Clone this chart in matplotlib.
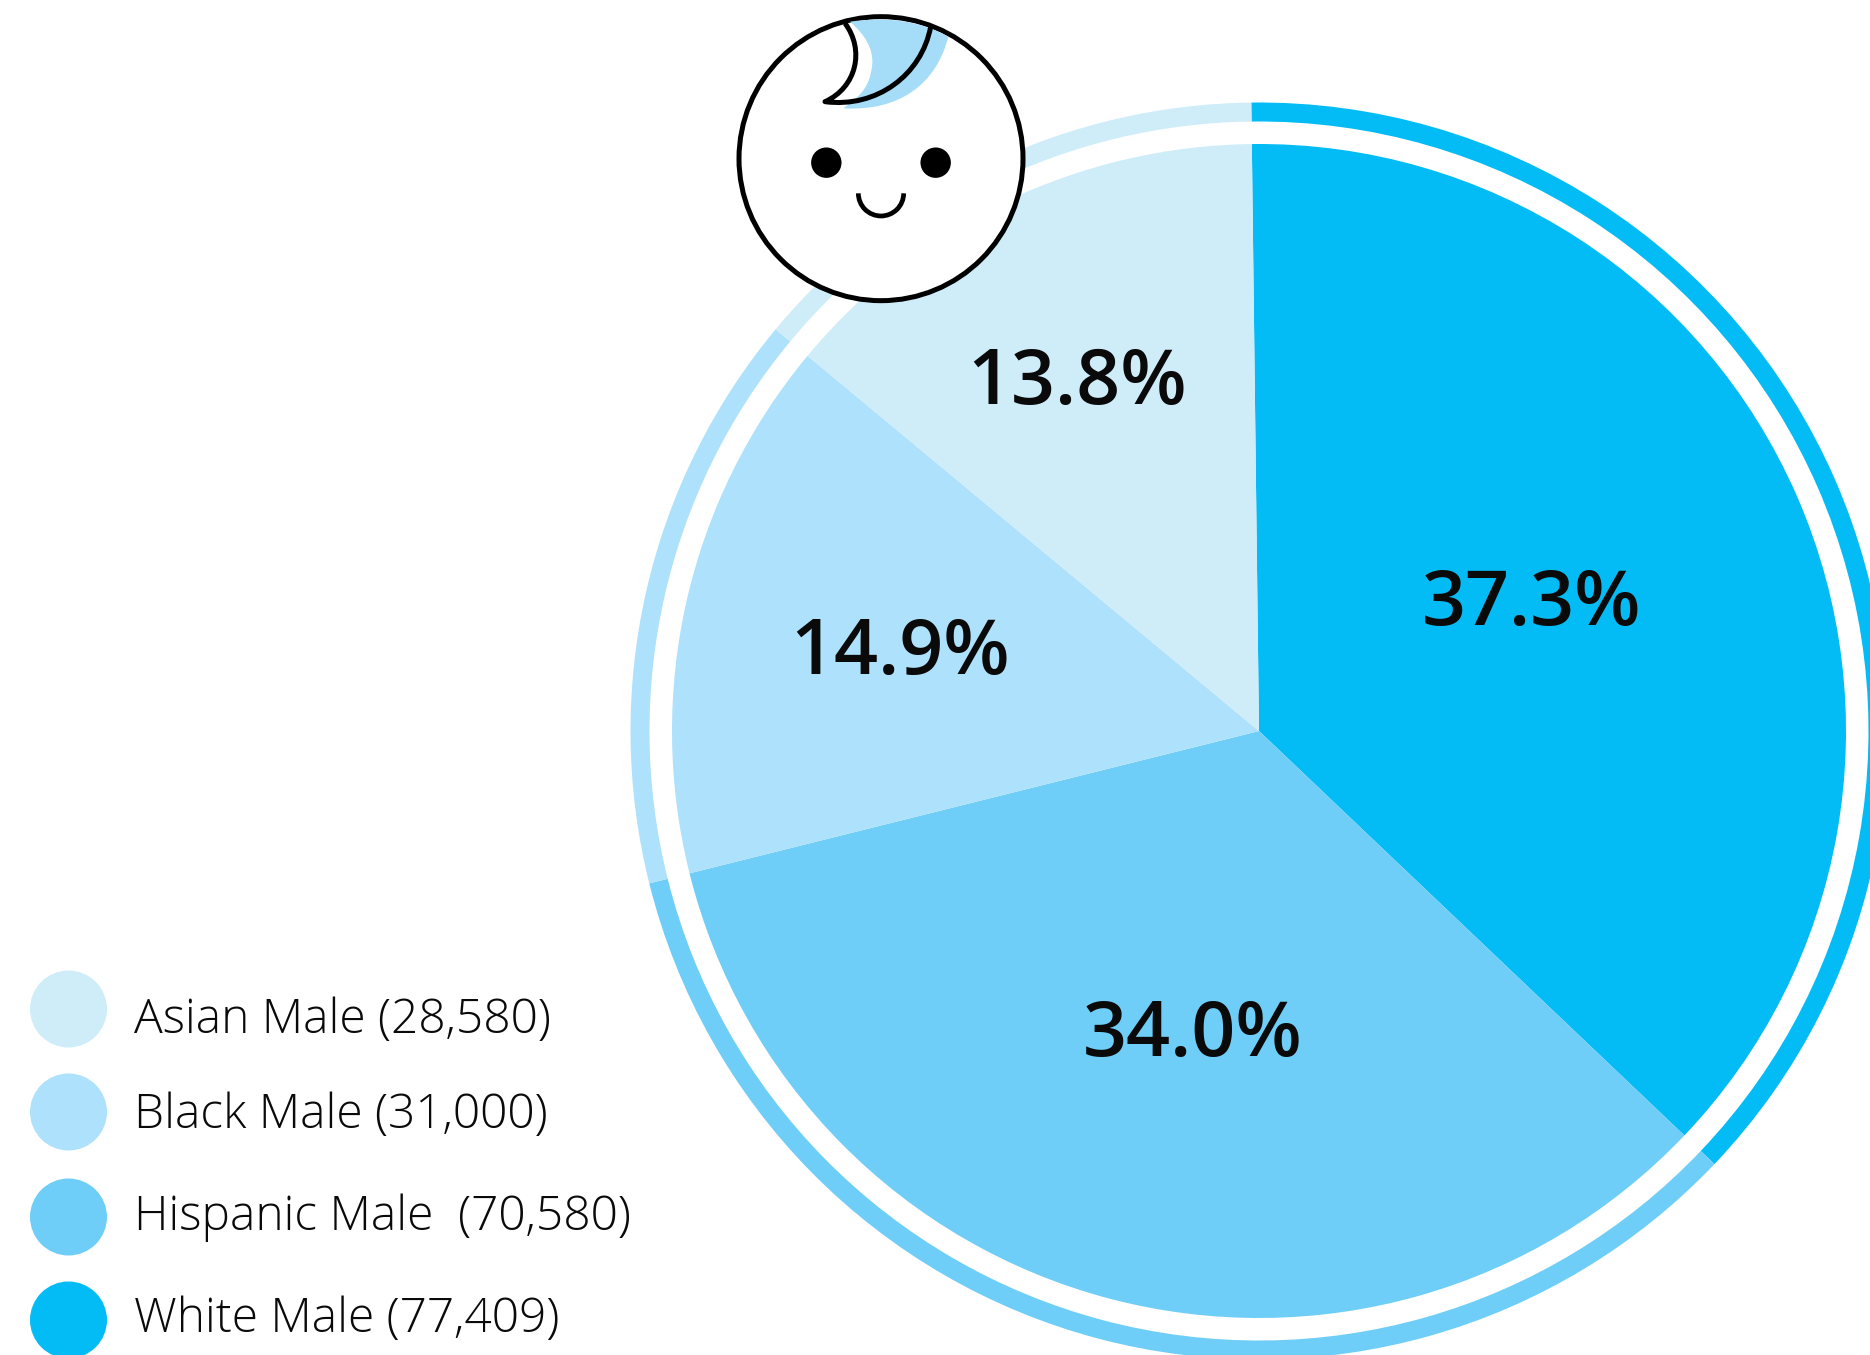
import matplotlib
matplotlib.use("Agg")
import matplotlib.pyplot as plt
from matplotlib.patches import Arc, Circle, PathPatch
from matplotlib.path import Path

# Daten
groups = ["White Male (77,409)", "Hispanic Male  (70,580)", "Black Male (31,000)", "Asian Male (28,580)"]
counts = [77409, 70580, 31000, 28580]
shares = ["37.3%", "34.0%", "14.9%", "13.8%"]
colors = ["#03BCF5", "#6FCEF7", "#AEE1FB", "#CFEDF9"]

W, H = 1870, 1355
plt.rcParams["font.family"] = ["Open Sans", "DejaVu Sans"]

fig = plt.figure(figsize=(W / 100, H / 100), dpi=100)
ax = fig.add_axes([0, 0, 1, 1])


def Y(y):
    return H - y


center = (1259, Y(731))

# Ring aussen und Kuchen innen
ax.pie(counts, colors=colors, center=center, radius=628.5, startangle=90.7, counterclock=False,
       wedgeprops={"width": 19, "linewidth": 0})
ax.pie(counts, colors=colors, center=center, radius=587, startangle=90.7, counterclock=False,
       wedgeprops={"linewidth": 0})
ax.set_xlim(0, W)
ax.set_ylim(0, H)
ax.set_aspect("equal")
ax.axis("off")

# Prozent-Labels
share_pos = [(1532, 605), (1193, 1036), (900, 654), (1077, 384)]
for s, (x, y) in zip(shares, share_pos):
    ax.text(x, Y(y), s, ha="center", va="center", fontsize=55.5, fontweight="semibold", color="#0a0a0a")

# Legende (von oben nach unten umgekehrt zur Kuchenreihenfolge)
legend_y = [1320, 1217, 1112, 1009]
legend_base = [1332, 1230, 1128, 1033]
for g, c, y, b in zip(groups, colors, legend_y, legend_base):
    ax.add_patch(Circle((68.5, Y(y)), 38.5, facecolor=c, edgecolor="none", clip_on=True))
    ax.text(134, Y(b), g, ha="left", va="baseline", fontsize=34.5, fontweight="light", color="#0a0a0a")


# Gesicht, Koordinaten aus dem 3x-Ausschnitt
def Z(x, y):
    return (700 + x / 3, Y(y / 3))


ax.add_patch(Circle(Z(543, 476), 142, facecolor="white", edgecolor="black", linewidth=3.6, zorder=5))

hair_blue = [
    (Path.MOVETO, (450, 65)), (Path.CURVE3, (520, 125)), (Path.CURVE3, (517, 190)),
    (Path.CURVE3, (512, 260)), (Path.CURVE3, (465, 297)), (Path.LINETO, (430, 325)),
    (Path.CURVE4, (600, 335)), (Path.CURVE4, (710, 250)), (Path.CURVE4, (745, 110)),
    (Path.CURVE3, (620, 40)), (Path.CURVE3, (450, 65)),
]
ax.add_patch(PathPatch(Path([Z(*p) for _, p in hair_blue], [c for c, _ in hair_blue]),
                       facecolor="#A5DDF8", edgecolor="none", zorder=6))

hair_line = [
    (Path.MOVETO, (435, 70)), (Path.CURVE4, (495, 150)), (Path.CURVE4, (470, 262)), (Path.CURVE4, (375, 305)),
    (Path.CURVE4, (530, 325)), (Path.CURVE4, (665, 225)), (Path.CURVE4, (692, 80)),
]
ax.add_patch(PathPatch(Path([Z(*p) for _, p in hair_line], [c for c, _ in hair_line]),
                       facecolor="none", edgecolor="black", linewidth=3.6, joinstyle="round", zorder=7))

for ex in (379, 707):
    ax.add_patch(Circle(Z(ex, 488), 15.2, facecolor="black", edgecolor="none", zorder=7))

ax.add_patch(Arc(Z(543, 580), 45.3, 45.3, theta1=180, theta2=360, edgecolor="black", linewidth=3.4, zorder=7))

fig.savefig("out.png", dpi=100)
